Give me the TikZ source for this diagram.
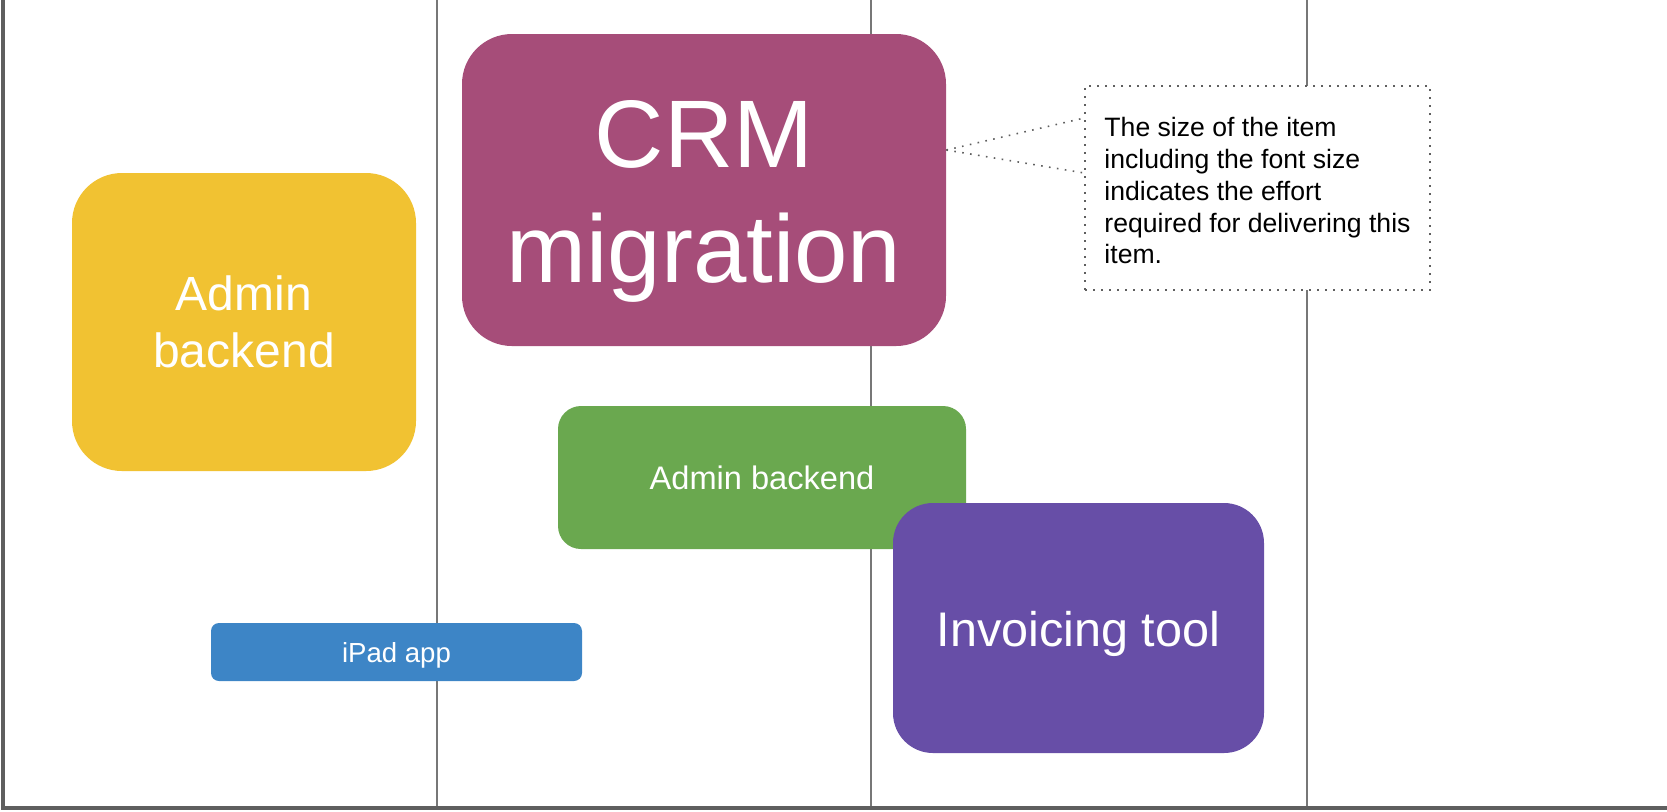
\documentclass[tikz,border=0pt]{standalone}
\usepackage{fontspec}
\setmainfont{Liberation Sans}
\usepackage{tikz}
\usetikzlibrary{positioning}

\definecolor{adminyellow}{HTML}{F1C232}
\definecolor{crmplum}{HTML}{A64D79}
\definecolor{backendgreen}{HTML}{6AA84F}
\definecolor{invoicepurple}{HTML}{674EA7}
\definecolor{ipadblue}{HTML}{3D85C6}
\definecolor{axisgray}{HTML}{5F5F5F}
\newcommand{\lift}[1]{\rule{0pt}{#1}}

\begin{document}
\begin{tikzpicture}[x=0.5pt, y=-0.5pt,
    item/.style={rectangle, rounded corners=#1, inner sep=0pt, text=white, align=center},
    grid/.style={axisgray!85, line width=1pt},
    leader/.style={axisgray, line width=0.8pt, dash pattern=on 0.8pt off 3.2pt}]
              \useasboundingbox (0,0) rectangle (1667,811);
              \foreach \x in {437, 871, 1307}
                \draw[grid] (\x, 0) -- (\x, 808);
              \draw[axisgray, line width=2pt] (2.5, 0) -- (2.5, 808) -- (1667, 808);
              \node[item=25pt, fill=adminyellow, minimum width=172pt, minimum height=149pt,
                font=\fontsize{24}{28.5}\selectfont] (admin) at (244, 322) {Admin\\backend};
              \node[item=25pt, fill=crmplum, minimum width=242pt, minimum height=156pt,
                font=\fontsize{48}{57.5}\selectfont] (crm) at (704, 190) {\lift{45pt}CRM\\migration};
              \node[item=11.5pt, fill=backendgreen, minimum width=204pt, minimum height=71.5pt,
                font=\fontsize{16.3}{19.5}\selectfont] (backend) at (762, 477.5) {Admin backend};
              \node[item=20pt, fill=invoicepurple, minimum width=185.5pt, minimum height=125pt,
                font=\fontsize{24.3}{29}\selectfont] (invoice) at (1078.5, 628) {\lift{24pt}Invoicing tool};
              \node[item=4pt, fill=ipadblue, minimum width=185.5pt, minimum height=29pt,
                font=\fontsize{13.8}{16.5}\selectfont] (ipad) at (396.5, 652) {\lift{13pt}iPad app};
              \node[leader, draw, fill=white, inner sep=0pt, minimum width=172.5pt, minimum height=102pt,
                align=left, text=black, font=\fontsize{13.3}{15.9}\selectfont] (note) at (1257.5, 188)
                {\lift{12.5pt}The size of the item\\including the font size\\indicates the effort\\required for delivering this\\item.};
              \coordinate (tip) at ([yshift=20pt]crm.east);
              \draw[leader] (tip) -- ([yshift=35pt]note.west);
              \draw[leader] (tip) -- ([yshift=7.5pt]note.west);
            \end{tikzpicture}
\end{document}
